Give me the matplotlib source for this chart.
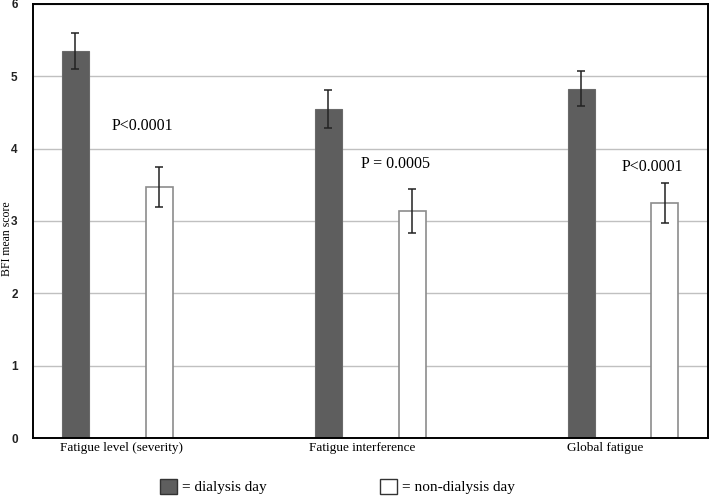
import matplotlib
matplotlib.use('Agg')
import matplotlib.pyplot as plt
from matplotlib.patches import Rectangle
import numpy as np

plt.rcParams.update({
    "font.family": "serif",
    "font.serif": ["Liberation Serif", "DejaVu Serif"],
})

categories = ["Fatigue level (severity)", "Fatigue interference", "Global fatigue"]
dialysis = [5.35, 4.55, 4.83]
dialysis_err = [0.245, 0.26, 0.24]
non_dialysis = [3.47, 3.14, 3.25]
non_dialysis_err = [0.28, 0.30, 0.28]
p_labels = ["P<0.0001", "P = 0.0005", "P<0.0001"]
p_y = [4.31, 3.79, 3.74]

# layout
x = np.arange(len(categories))
off = 0.166
width = 0.107
label_pos = [0.017, 0.967, 1.929]
p_x = [0.10, 1.10, 2.118]

fig = plt.figure(figsize=(7.09, 4.97), dpi=100)
ax = fig.add_axes([0.0465, 0.1187, 0.952, 0.8733])

ax.bar(x - off, dialysis, width, color="#5e5e5e", edgecolor="#6a6a6a", linewidth=0.8, zorder=2)
ax.bar(x + off, non_dialysis, width, color="white", edgecolor="#8c8c8c", linewidth=1.2, zorder=2)
ax.errorbar(x - off, dialysis, yerr=dialysis_err, fmt="none", ecolor="#222222",
            elinewidth=1.1, capsize=2.8, capthick=1.1, zorder=3)
ax.errorbar(x + off, non_dialysis, yerr=non_dialysis_err, fmt="none", ecolor="#222222",
            elinewidth=1.1, capsize=2.8, capthick=1.1, zorder=3)

for px, py, t in zip(p_x, p_y, p_labels):
    ax.text(px, py, t, ha="center", va="center", fontsize=11.5)

ax.set_xlim(-0.334, 2.336)
ax.set_ylim(0, 6)
ax.set_yticks(range(7))
ax.set_yticklabels([str(i) for i in range(7)], family="Liberation Sans", fontsize=8.5, fontweight="bold",
                   color="#222222")
ax.set_xticks(label_pos)
ax.set_xticklabels(categories, fontsize=9.5)
ax.tick_params(axis="both", length=0)
ax.tick_params(axis="y", pad=11)
ax.tick_params(axis="x", pad=3)
ax.yaxis.grid(True, color="#c0c0c0", linewidth=1.0, zorder=0)
ax.set_axisbelow(True)
for s in ax.spines.values():
    s.set_linewidth(1.4)
    s.set_color("black")
ax.set_ylabel("BFI mean score", fontsize=8.5, va="center")
ax.yaxis.set_label_coords(-0.039, 0.46)

# legend drawn as figure boxes
fig.patches.append(Rectangle((160 / 709, 1 - 494 / 497), 17 / 709, 15 / 497, transform=fig.transFigure,
                             facecolor="#5e5e5e", edgecolor="#333333", linewidth=1.0))
fig.text(182 / 709, 1 - 487 / 497, "= dialysis day", fontsize=11, va="center", ha="left")
fig.patches.append(Rectangle((380 / 709, 1 - 494 / 497), 17 / 709, 15 / 497, transform=fig.transFigure,
                             facecolor="white", edgecolor="#333333", linewidth=1.0))
fig.text(402 / 709, 1 - 487 / 497, "= non-dialysis day", fontsize=11, va="center", ha="left")

fig.savefig("out.png", dpi=100)
